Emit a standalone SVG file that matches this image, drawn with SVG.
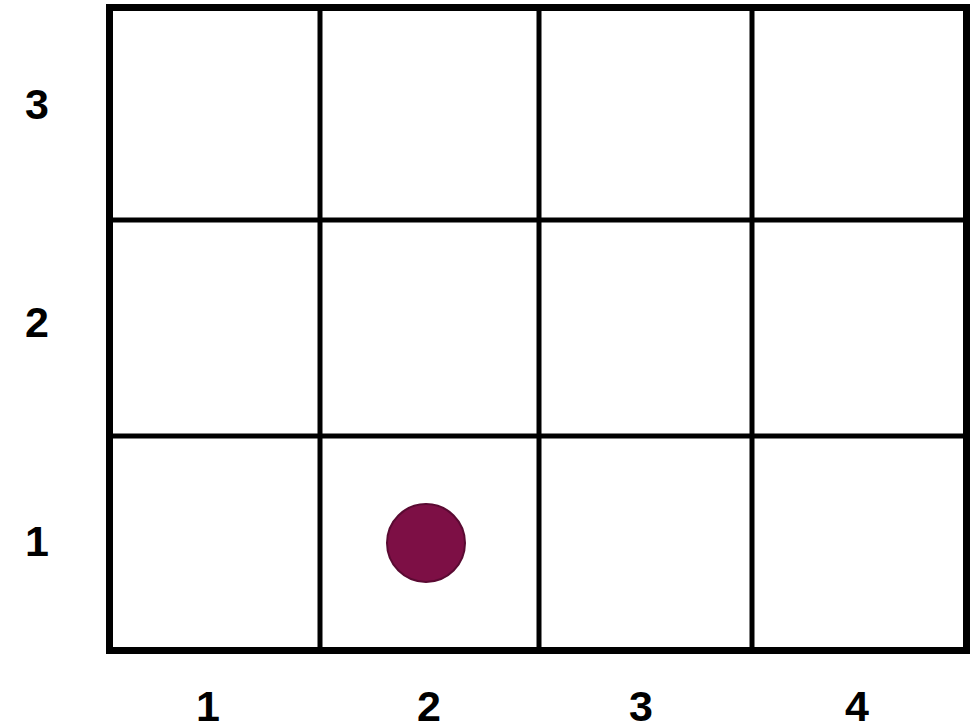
<svg xmlns="http://www.w3.org/2000/svg" width="977" height="725" viewBox="0 0 977 725">
<style>
.lbl{font-family:"Liberation Sans",Arial,sans-serif;font-weight:bold;font-size:43px;fill:#000;text-anchor:middle}
.grid{stroke:#000;stroke-width:5;fill:none}
</style>
<rect width="977" height="725" fill="#fff"/>
<g id="grid">
<line class="grid" x1="320" y1="7" x2="320" y2="651"/>
<line class="grid" x1="539" y1="7" x2="539" y2="651"/>
<line class="grid" x1="752" y1="7" x2="752" y2="651"/>
<line class="grid" x1="109" y1="220" x2="967" y2="220"/>
<line class="grid" x1="109" y1="436" x2="967" y2="436"/>
<rect x="109.5" y="7.5" width="857" height="643" fill="none" stroke="#000" stroke-width="7"/>
</g>
<g id="token">
<circle cx="426" cy="543" r="39" fill="#7d0f45" stroke="#5a0a32" stroke-width="2"/>
</g>
<g id="labels">
<text class="lbl" x="37" y="119">3</text>
<text class="lbl" x="37" y="337">2</text>
<text class="lbl" x="37" y="556">1</text>
<text class="lbl" x="208" y="721">1</text>
<text class="lbl" x="429" y="721">2</text>
<text class="lbl" x="641" y="721">3</text>
<text class="lbl" x="857" y="721">4</text>
</g>
</svg>
